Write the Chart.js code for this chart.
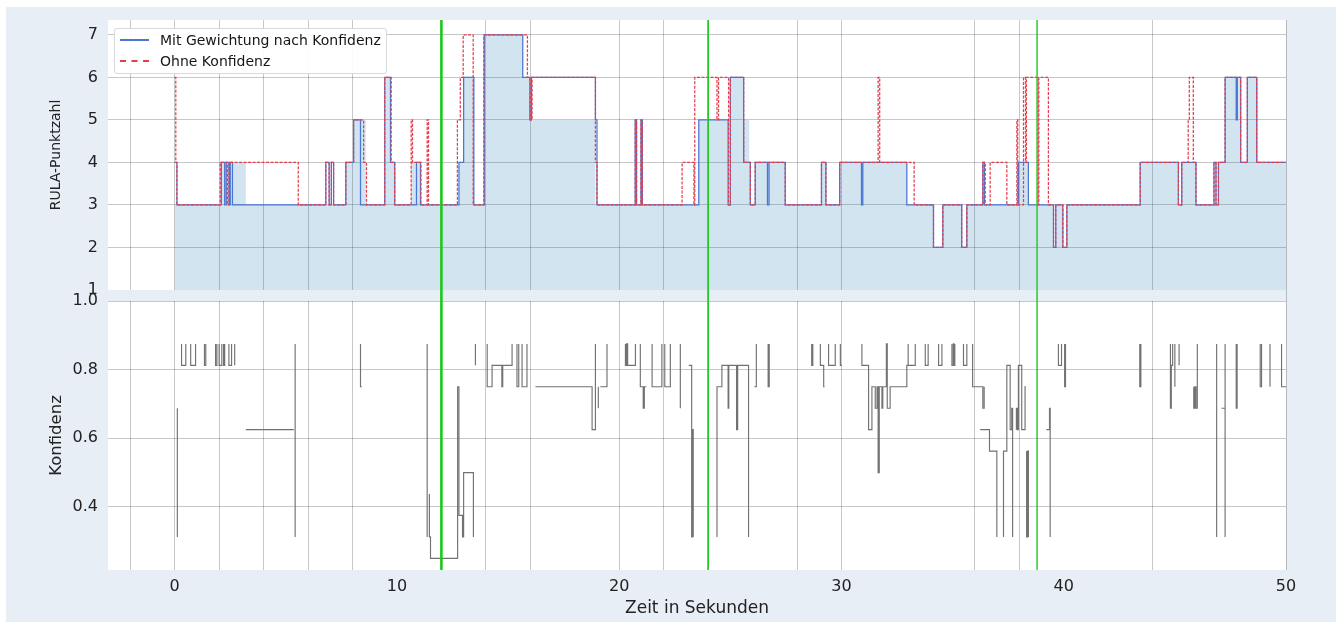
<!DOCTYPE html>
<html lang="de">
<head>
<meta charset="utf-8">
<title>RULA-Punktzahl und Konfidenz</title>
<script src="https://cdn.jsdelivr.net/npm/chart.js@4.4.1/dist/chart.umd.min.js"></script>
<style>
  html, body { margin: 0; padding: 0; background: #ffffff; }
  body { width: 1336px; height: 622px; position: relative; overflow: hidden; font-family: "DejaVu Sans", sans-serif; }
  #figure { position: absolute; left: 6px; top: 7px; right: 0; bottom: 0; background: #e8eef6; }
  #chart { position: absolute; left: 0; top: 0; }
  #legend {
    position: absolute; left: 114px; top: 28px; width: 271px; height: 44px;
    background: rgba(255, 255, 255, 0.92); border: 1px solid #d9d9d9; border-radius: 3px;
    font-size: 14px; color: #161616;
  }
  #legend .row { position: absolute; left: 5px; height: 18px; display: flex; align-items: center; white-space: nowrap; }
  #legend .sample { display: block; width: 29px; margin-right: 11px; box-sizing: border-box; }
</style>
</head>
<body>
<div id="figure"></div>
<canvas id="chart" width="1336" height="622"></canvas>
<div id="legend"></div>

<script>
// RULA score, weighted by keypoint confidence (change times in s, score)
const rulaWeightedTime = [0, 0.1, 2.1, 2.25, 2.32, 2.45, 2.5, 2.6, 6.8, 6.95, 7.05, 7.15, 7.7, 8.05, 8.36,
  9.45, 9.71, 9.9, 10.88, 11.06, 12.79, 13.0, 13.46, 13.93, 15.66, 15.98, 16.05, 18.93, 19.0,
  20.72, 20.78, 20.98, 21.04, 23.58, 24.9, 25.0, 25.6, 25.9, 26.12, 26.67, 26.74, 27.47,
  29.1, 29.3, 29.92, 30.9, 30.96, 32.94, 34.14, 34.56, 35.41, 35.64, 36.36, 36.43, 37.96, 38.41,
  39.54, 39.64, 39.96, 40.14, 43.44, 45.16, 45.31, 45.95, 46.76, 46.85, 46.96,
  47.26, 47.76, 47.81, 47.96, 48.26, 48.68, 50];
const rulaWeightedValue = [4, 3, 4, 3, 4, 3, 4, 3, 4, 3, 4, 3, 4, 5, 3,
  6, 4, 3, 4, 3, 4, 6, 3, 7, 6, 5, 6, 5, 3,
  5, 3, 5, 3, 5, 3, 6, 4, 3, 4, 3, 4, 3,
  4, 3, 4, 3, 4, 3, 2, 3, 2, 3, 4, 3, 4, 3,
  2, 3, 2, 3, 4, 3, 4, 3, 4, 3, 4,
  6, 5, 6, 4, 6, 4, 4];

// RULA score without confidence
const rulaRawTime = [0, 0.05, 0.1, 2.05, 2.37, 2.44, 5.56, 6.8, 6.95, 7.05, 7.15, 7.7, 8.05, 8.5, 8.63,
  9.45, 9.74, 9.9, 10.64, 10.7, 11.08, 11.36, 11.42, 12.72, 12.85, 12.98, 13.43, 13.91,
  15.87, 16.0, 16.08, 18.93, 19.0, 20.72, 20.78, 20.98, 21.04, 22.83, 23.36, 23.4,
  24.4, 24.47, 24.92, 25.0, 25.6, 25.9, 26.12, 27.47, 29.1, 29.3, 29.92, 31.65, 31.72, 33.27,
  34.14, 34.56, 35.41, 35.64, 36.36, 36.47, 36.69, 37.44, 37.89, 37.93, 38.19, 38.28, 38.32,
  38.84, 38.88, 39.31, 39.54, 39.64, 39.96, 40.14, 43.44, 45.16, 45.31, 45.6, 45.65, 45.83,
  45.95, 46.76, 46.85, 46.96, 47.26, 47.96, 48.26, 48.68, 50];
const rulaRawValue = [6, 4, 3, 4, 3, 4, 3, 4, 3, 4, 3, 4, 5, 4, 3,
  6, 4, 3, 5, 4, 3, 5, 3, 5, 6, 7, 3, 7,
  6, 5, 6, 4, 3, 5, 3, 5, 3, 4, 3, 6,
  5, 6, 3, 6, 4, 3, 4, 3, 4, 3, 4, 6, 4, 3,
  2, 3, 2, 3, 4, 3, 4, 3, 5, 3, 6, 4, 6,
  3, 6, 3, 2, 3, 2, 3, 4, 3, 4, 5, 6, 4,
  3, 4, 3, 4, 6, 4, 6, 4, 4];

// shaded score band (filled down to 1)
const shadeTime = [0, 2.05, 3.2, 7.7, 8.05, 8.6, 9.45, 9.74, 9.9, 10.64, 11.08, 12.79, 13.0, 13.46, 13.93,
  15.66, 16.0, 18.93, 20.72, 20.78, 20.98, 21.04, 23.58, 24.9, 25.0, 25.6, 25.85, 25.9, 26.12, 27.47,
  29.1, 29.3, 29.92, 32.94, 34.14, 34.56, 35.41, 35.64, 36.36, 36.43, 37.96, 38.41,
  39.54, 39.64, 39.96, 40.14, 43.44, 45.16, 45.31, 45.95, 46.96, 47.26, 47.96, 48.26, 48.75, 50];
const shadeValue = [3, 4, 3, 4, 5, 3, 6, 4, 3, 4, 3, 4, 6, 3, 7,
  6, 5, 3, 5, 3, 5, 3, 5, 3, 6, 5, 4, 3, 4, 3,
  4, 3, 4, 3, 2, 3, 2, 3, 4, 3, 4, 3,
  2, 3, 2, 3, 4, 3, 4, 3, 4, 6, 4, 6, 4, 4];

// confidence trace, null marks a break in the line
const confTime = [
  0.12, 0.12, null,
  0.31, 0.31, 0.5, 0.5, null,
  0.72, 0.72, 0.94, 0.94, null,
  1.34, 1.34, 1.4, 1.4, null,
  1.84, 1.84, 1.9, 1.9, null,
  2.0, 2.0, 2.12, 2.12, null,
  2.2, 2.2, 2.25, 2.25, null,
  2.44, 2.44, 2.56, 2.56, null,
  2.7, 2.7, null,
  3.2, 5.36, null,
  5.42, 5.42, null,
  8.36, 8.36, 8.42, null,
  11.36, 11.36, null,
  11.46, 11.46, 11.51, 11.51, 12.73, 12.73, 12.79, 12.79, 12.95, 12.95, 13.0, 13.0, 13.44, 13.44, null,
  13.53, 13.53, null,
  14.06, 14.06, 14.28, 14.28, 14.72, 14.72, 14.76, 14.76, 15.18, 15.18, null,
  15.4, 15.4, 15.48, 15.48, null,
  15.63, 15.63, 15.85, 15.85, null,
  16.23, 18.78, 18.78, 18.93, 18.93, null,
  19.06, 19.06, null,
  19.15, 19.45, 19.45, null,
  20.28, 20.28, 20.33, 20.33, 20.38, 20.38, 20.73, 20.73, null,
  20.95, 20.95, 21.08, 21.08, 21.13, 21.13, 21.22, null,
  21.48, 21.48, 21.92, 21.92, null,
  22.05, 22.05, 22.3, 22.3, null,
  22.75, 22.75, null,
  23.13, 23.26, 23.26, 23.3, 23.3, 23.33, 23.33, null,
  24.4, 24.4, 24.62, 24.62, 24.9, 24.9, 24.93, 24.93, 25.28, 25.28, 25.33, 25.33, 25.82, 25.82, null,
  26.08, 26.17, 26.17, null,
  26.7, 26.7, 26.75, 26.75, null,
  28.66, 28.66, 28.71, 28.71, null,
  29.05, 29.05, 29.2, 29.2, 29.24, null,
  29.42, 29.42, 29.72, 29.72, null,
  29.95, 29.95, 30.02, null,
  30.92, 30.92, 31.22, 31.22, 31.37, 31.37, 31.52, 31.52, 31.6, 31.6, 31.65, 31.65, 31.7, 31.7,
  31.82, 31.82, 31.86, 31.86, 32.02, 32.02, 32.06, 32.06, 32.19, 32.19, 32.94, 32.94, 33.32, 33.32, null,
  33.0, 33.0, null,
  33.77, 33.77, 33.9, 33.9, null,
  34.37, 34.37, 34.52, 34.52, null,
  34.97, 34.97, 35.03, 35.03, 35.06, 35.06, 35.1, 35.1, null,
  35.49, 35.49, 35.64, 35.64, null,
  35.9, 35.9, 36.36, 36.36, 36.42, 36.42, null,
  36.24, 36.66, 36.66, 36.99, 36.99, null,
  37.29, 37.29, 37.44, 37.44, 37.59, 37.59, 37.66, 37.66, 37.7, 37.7, null,
  37.87, 37.87, 37.91, 37.91, 37.96, 37.96, 38.11, 38.11, 38.26, 38.26, 38.3, null,
  38.33, 38.33, 38.37, 38.37, 38.41, 38.41, null,
  39.22, 39.36, 39.36, 39.39, 39.39, null,
  39.76, 39.76, 39.9, 39.9, null,
  40.04, 40.04, 40.08, 40.08, null,
  43.42, 43.42, 43.47, 43.47, null,
  44.8, 44.8, 44.84, 44.84, 44.9, 44.9, null,
  45.0, 45.0, null,
  45.19, 45.19, null,
  45.85, 45.85, 45.9, 45.9, 45.95, 45.95, 46.01, 46.01, null,
  46.88, 46.88, null,
  47.1, 47.26, null,
  47.26, 47.26, null,
  47.76, 47.76, 47.8, 47.8, null,
  48.84, 48.84, 48.9, 48.9, null,
  49.28, 49.28, null,
  49.8, 49.8, 50, null
];
const confValue = [
  0.6875, 0.3125, null,
  0.875, 0.8125, 0.8125, 0.875, null,
  0.875, 0.8125, 0.8125, 0.875, null,
  0.875, 0.8125, 0.8125, 0.875, null,
  0.875, 0.8125, 0.8125, 0.875, null,
  0.875, 0.8125, 0.8125, 0.875, null,
  0.875, 0.8125, 0.8125, 0.875, null,
  0.875, 0.8125, 0.8125, 0.875, null,
  0.875, 0.8125, null,
  0.625, 0.625, null,
  0.875, 0.3125, null,
  0.875, 0.75, 0.75, null,
  0.875, 0.3125, null,
  0.4375, 0.3125, 0.3125, 0.25, 0.25, 0.75, 0.75, 0.375, 0.375, 0.3125, 0.3125, 0.5, 0.5, 0.3125, null,
  0.875, 0.8125, null,
  0.875, 0.75, 0.75, 0.8125, 0.8125, 0.75, 0.75, 0.8125, 0.8125, 0.875, null,
  0.875, 0.75, 0.75, 0.875, null,
  0.875, 0.75, 0.75, 0.875, null,
  0.75, 0.75, 0.625, 0.625, 0.875, null,
  0.75, 0.6875, null,
  0.75, 0.75, 0.875, null,
  0.875, 0.8125, 0.8125, 0.875, 0.875, 0.8125, 0.8125, 0.875, null,
  0.875, 0.75, 0.75, 0.6875, 0.6875, 0.75, 0.75, null,
  0.875, 0.75, 0.75, 0.875, null,
  0.875, 0.75, 0.75, 0.875, null,
  0.875, 0.6875, null,
  0.8125, 0.8125, 0.3125, 0.3125, 0.625, 0.625, 0.3125, null,
  0.3125, 0.75, 0.75, 0.8125, 0.8125, 0.6875, 0.6875, 0.8125, 0.8125, 0.625, 0.625, 0.8125, 0.8125, 0.3125, null,
  0.75, 0.75, 0.875, null,
  0.875, 0.75, 0.75, 0.875, null,
  0.875, 0.8125, 0.8125, 0.875, null,
  0.875, 0.8125, 0.8125, 0.75, 0.75, null,
  0.875, 0.8125, 0.8125, 0.875, null,
  0.875, 0.8125, 0.8125, null,
  0.875, 0.8125, 0.8125, 0.625, 0.625, 0.75, 0.75, 0.6875, 0.6875, 0.75, 0.75, 0.5, 0.5, 0.75,
  0.75, 0.6875, 0.6875, 0.75, 0.75, 0.875, 0.875, 0.6875, 0.6875, 0.75, 0.75, 0.8125, 0.8125, 0.875, null,
  0.875, 0.8125, null,
  0.875, 0.8125, 0.8125, 0.875, null,
  0.875, 0.8125, 0.8125, 0.875, null,
  0.875, 0.8125, 0.8125, 0.875, 0.875, 0.8125, 0.8125, 0.875, null,
  0.875, 0.8125, 0.8125, 0.875, null,
  0.875, 0.75, 0.75, 0.6875, 0.6875, 0.75, null,
  0.625, 0.625, 0.5625, 0.5625, 0.3125, null,
  0.3125, 0.5625, 0.5625, 0.8125, 0.8125, 0.625, 0.625, 0.6875, 0.6875, 0.3125, null,
  0.625, 0.6875, 0.6875, 0.625, 0.625, 0.8125, 0.8125, 0.625, 0.625, 0.75, 0.75, null,
  0.5625, 0.3125, 0.3125, 0.5625, 0.5625, 0.3125, null,
  0.625, 0.625, 0.6875, 0.6875, 0.3125, null,
  0.875, 0.8125, 0.8125, 0.875, null,
  0.875, 0.75, 0.75, 0.875, null,
  0.875, 0.75, 0.75, 0.875, null,
  0.875, 0.6875, 0.6875, 0.8125, 0.8125, 0.875, null,
  0.875, 0.75, null,
  0.875, 0.8125, null,
  0.75, 0.6875, 0.6875, 0.75, 0.75, 0.6875, 0.6875, 0.875, null,
  0.875, 0.3125, null,
  0.6875, 0.6875, null,
  0.875, 0.3125, null,
  0.875, 0.6875, 0.6875, 0.875, null,
  0.875, 0.75, 0.75, 0.875, null,
  0.875, 0.75, null,
  0.875, 0.75, 0.75, null
];

// event markers (s)
const markerTimes = [12, 24, 38.8];

// axis ticks
const xLabelTicks = [0, 10, 20, 30, 40, 50];
const xGridTicks = [-2, 0, 2, 4, 6, 8, 14, 16, 20, 22, 28, 30, 36, 38, 44, 50];
const rulaTicks = [1, 2, 3, 4, 5, 6, 7];
const confTicks = [0.4, 0.6, 0.8, 1.0];

const FIGURE_BG = "#e8eef6";
const GRID = "rgba(0, 0, 0, 0.22)";
const MARKER_COLOR = "#1cc81c";
const MARKER_WIDTHS = [2.6, 1.7, 1.4];
const AXIS_WIDTH = 82;
const WEIGHTED_COLOR = "#4a76d4";
const RAW_COLOR = "#e23e4c";

Chart.defaults.font.family = "'DejaVu Sans', sans-serif";
Chart.defaults.color = "#222222";

function toPoints(times, values) {
  return times.map((t, i) => ({ x: t === null ? times[i - 1] : t, y: values[i] }));
}

const panelPlugin = {
  id: "panels",
  beforeDraw(chart) {
    const { ctx, chartArea, scales } = chart;
    ctx.save();
    ctx.fillStyle = "#ffffff";
    ["yRula", "yConf"].forEach((id) => {
      const s = scales[id];
      ctx.fillRect(chartArea.left, s.top, chartArea.right - chartArea.left, s.bottom - s.top);
    });
    ctx.restore();
  },
  beforeDatasetsDraw(chart) {
    const { ctx, chartArea, scales } = chart;
    const gap = scales.yGap;
    ctx.save();
    ctx.fillStyle = FIGURE_BG;
    ctx.fillRect(chartArea.left, gap.top, chartArea.right - chartArea.left, gap.bottom - gap.top);
    ctx.restore();
  },
  afterDatasetsDraw(chart) {
    const { ctx, chartArea, scales } = chart;
    ctx.save();
    ctx.strokeStyle = MARKER_COLOR;
    markerTimes.forEach((t, i) => {
      const x = scales.x.getPixelForValue(t);
      ctx.lineWidth = MARKER_WIDTHS[i];
      ctx.beginPath();
      ctx.moveTo(x, chartArea.top);
      ctx.lineTo(x, chartArea.bottom);
      ctx.stroke();
    });
    ctx.restore();
  },
};

function setupChart() {
  const canvas = document.getElementById("chart");
  const tickFont = { size: 16 };

  const chart = new Chart(canvas, {
    type: "line",
    data: {
      datasets: [
        {
          label: "Ohne Konfidenz",
          inLegend: true,
          data: toPoints(rulaRawTime, rulaRawValue),
          yAxisID: "yRula",
          stepped: true,
          borderColor: RAW_COLOR,
          borderWidth: 1.25,
          borderDash: [3, 1.5],
          pointRadius: 0,
          fill: false,
          order: 0,
        },
        {
          label: "Mit Gewichtung nach Konfidenz",
          inLegend: true,
          data: toPoints(rulaWeightedTime, rulaWeightedValue),
          yAxisID: "yRula",
          stepped: true,
          borderColor: WEIGHTED_COLOR,
          borderWidth: 1.25,
          pointRadius: 0,
          fill: false,
          order: 1,
        },
        {
          data: toPoints(shadeTime, shadeValue),
          yAxisID: "yRula",
          stepped: true,
          borderWidth: 0,
          borderColor: "rgba(0, 0, 0, 0)",
          backgroundColor: "rgba(31, 119, 180, 0.2)",
          pointRadius: 0,
          fill: { value: 1 },
          order: 2,
        },
        {
          data: toPoints(confTime, confValue),
          yAxisID: "yConf",
          stepped: true,
          spanGaps: false,
          borderColor: "#727272",
          borderWidth: 1.15,
          pointRadius: 0,
          fill: false,
          order: 3,
        },
      ],
    },
    options: {
      responsive: false,
      animation: false,
      devicePixelRatio: 1,
      layout: { padding: { left: 26, right: 50, top: 20, bottom: 0 } },
      plugins: {
        legend: { display: false },
        tooltip: { enabled: false },
      },
      scales: {
        x: {
          type: "linear",
          min: -3,
          max: 50,
          afterBuildTicks: (scale) => {
            const values = [...new Set([...xGridTicks, ...xLabelTicks])].sort((a, b) => a - b);
            scale.ticks = values.map((v) => ({ value: v }));
          },
          afterFit: (scale) => { scale.height = 52; },
          ticks: {
            autoSkip: false,
            maxRotation: 0,
            padding: 7,
            font: tickFont,
            callback: (v) => (xLabelTicks.includes(v) ? String(v) : ""),
          },
          grid: {
            drawTicks: false,
            color: (ctx) => (ctx.tick && xGridTicks.includes(ctx.tick.value) ? GRID : "rgba(0, 0, 0, 0)"),
          },
          border: { display: false },
          title: {
            display: true,
            text: "Zeit in Sekunden",
            font: { size: 17 },
            padding: { top: 0, bottom: 3 },
          },
        },
        // stacked panels: listed bottom first
        yConf: {
          type: "linear",
          position: "left",
          stack: "panels",
          stackWeight: 269,
          min: 0.216,
          max: 1.0,
          afterBuildTicks: (scale) => { scale.ticks = confTicks.map((v) => ({ value: v })); },
          afterFit: (scale) => { scale.width = AXIS_WIDTH; },
          ticks: { padding: 10, font: tickFont, callback: (v) => Number(v).toFixed(1) },
          grid: { drawTicks: false, color: GRID },
          border: { display: false },
          title: { display: true, text: "Konfidenz", font: { size: 16.5 }, padding: { top: 21, bottom: 0 } },
        },
        yGap: {
          type: "linear",
          position: "left",
          stack: "panels",
          stackWeight: 11,
          min: 0,
          max: 1,
          ticks: { display: false },
          grid: { display: false, drawTicks: false },
          border: { display: false },
        },
        yRula: {
          type: "linear",
          position: "left",
          stack: "panels",
          stackWeight: 270,
          min: 1,
          max: 7.35,
          afterBuildTicks: (scale) => { scale.ticks = rulaTicks.map((v) => ({ value: v })); },
          afterFit: (scale) => { scale.width = AXIS_WIDTH; },
          ticks: { padding: 10, font: tickFont, callback: (v) => String(v) },
          grid: { drawTicks: false, color: GRID },
          border: { display: false },
          title: { display: true, text: "RULA-Punktzahl", font: { size: 14 }, padding: { top: 22, bottom: 0 } },
        },
      },
    },
    plugins: [panelPlugin],
  });

  buildLegend(chart);
}

function buildLegend(chart) {
  const box = document.getElementById("legend");
  const entries = chart.data.datasets.filter((ds) => ds.inLegend);
  // weighted series first, then the raw one
  entries.reverse().forEach((ds, i) => {
    const row = document.createElement("div");
    row.className = "row";
    row.style.top = `${2 + i * 21}px`;
    const sample = document.createElement("span");
    sample.className = "sample";
    if (ds.borderDash) {
      sample.style.height = "2px";
      sample.style.borderTop = `2px dashed ${ds.borderColor}`;
    } else {
      sample.style.height = "2px";
      sample.style.backgroundColor = ds.borderColor;
    }
    const text = document.createElement("span");
    text.textContent = ds.label;
    row.appendChild(sample);
    row.appendChild(text);
    box.appendChild(row);
  });
}

if (document.readyState !== "loading") {
  setupChart();
} else {
  document.addEventListener("DOMContentLoaded", setupChart);
}
</script>
</body>
</html>
